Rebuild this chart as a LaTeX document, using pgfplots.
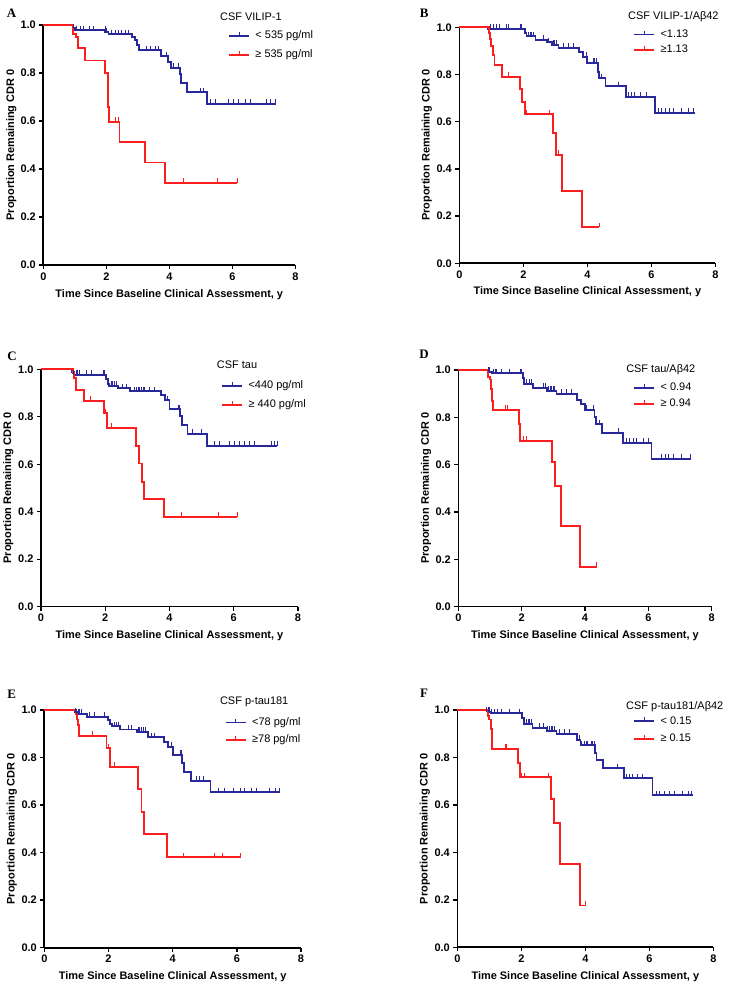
\documentclass[border=0pt]{standalone}
\usepackage{fontspec}
\setmainfont{Liberation Sans}
\newfontfamily\letterfont{Liberation Serif}
\usepackage{pgfplots}
\pgfplotsset{compat=1.18}
\definecolor{kmblue}{RGB}{40,40,155}
\definecolor{kmred}{RGB}{250,30,30}
\pgfdeclareplotmark{cens}{\pgfpathmoveto{\pgfqpoint{0pt}{0pt}}\pgfpathlineto{\pgfqpoint{0pt}{\pgfplotmarksize}}\pgfusepathqstroke}
\tikzset{
  lettr/.style={font=\letterfont\bfseries\fontsize{13}{15}\selectfont},
  ttl/.style={anchor=west, inner sep=0pt, font=\fontsize{11}{13}\selectfont},
}
\pgfplotsset{
  km/.style={
    scale only axis, anchor=south west, clip=false,
    xmin=0, xmax=8, ymin=0, ymax=1,
    axis lines=left, axis line style={-, line width=1.6bp, black},
    xtick={0,2,4,6,8}, ytick={0,0.2,0.4,0.6,0.8,1},
    tick align=outside, major tick length=4bp, tick style={line width=1.4bp, black},
    minor tick num=0,
    /pgf/number format/assume math mode=true,
    yticklabel style={/pgf/number format/.cd, fixed, fixed zerofill, precision=1},
    tick label style={font=\bfseries\fontsize{11}{13}\selectfont},
    label style={font=\bfseries\fontsize{11}{13}\selectfont},
    xlabel={Time Since Baseline Clinical Assessment, y},
    ylabel={Proportion Remaining CDR 0},
    xlabel style={at={(axis description cs:0.5,-0.122)}, anchor=center},
    ylabel style={at={(axis description cs:-0.127,0.5)}, anchor=center},
    legend style={draw=none, fill=none, font=\fontsize{11}{13}\selectfont,
      nodes={inner sep=0.5bp, text height=8bp, text depth=2.5bp},
      /tikz/every odd column/.append style={column sep=5bp}},
    legend cell align=left,
    legend image code/.code={\draw[mark repeat=2,mark phase=2,##1] plot coordinates {(0bp,0bp) (10bp,0bp) (20bp,0bp)};},
  },
  bl/.style={kmblue, line width=1.9bp, const plot, forget plot, mark=none},
  rl/.style={kmred, line width=1.9bp, const plot, forget plot, mark=none},
  bc/.style={kmblue, only marks, mark=cens, mark size=4.5bp, line width=1bp, forget plot},
  rc/.style={kmred, only marks, mark=cens, mark size=4.5bp, line width=1bp, forget plot},
  lb/.style={kmblue, line width=1.8bp, mark=cens, mark size=4bp, mark options={line width=1bp}},
  lr/.style={kmred, line width=1.8bp, mark=cens, mark size=4bp, mark options={line width=1bp}},
}
\begin{document}
\begin{tikzpicture}
\useasboundingbox (0,0) rectangle (729bp,988bp);
% ---------- A ----------
\begin{axis}[km, at={(43.3bp,723bp)}, width=252bp, height=240bp,
  legend style={at={(0.721,0.915)}, anchor=west, row sep=7.3bp}]
\addplot[bl] coordinates {(0,1) (0.95,0.986) (1.0,0.978) (1.96,0.969) (2.07,0.961) (2.81,0.951) (2.9,0.938) (2.97,0.917) (3.05,0.895) (3.74,0.87) (3.97,0.845) (4.05,0.822) (4.33,0.795) (4.38,0.757) (4.56,0.72) (5.2,0.672) (7.38,0.672)};
\addplot[bc] coordinates {(0.97,0.986) (1.06,0.978) (1.17,0.978) (1.27,0.978) (1.48,0.978) (1.59,0.978) (1.96,0.978) (2.01,0.969) (2.17,0.961) (2.28,0.961) (2.38,0.961) (2.49,0.961) (2.6,0.961) (2.7,0.961) (3.29,0.895) (3.39,0.895) (3.55,0.895) (3.66,0.895) (3.9,0.87) (4.13,0.822) (4.29,0.822) (4.98,0.72) (5.09,0.72) (5.32,0.672) (5.46,0.672) (5.88,0.672) (6.04,0.672) (6.2,0.672) (6.41,0.672) (6.59,0.672) (7.1,0.672) (7.2,0.672) (7.37,0.672)};
\addplot[rl] coordinates {(0,1) (0.95,0.963) (1.04,0.951) (1.11,0.905) (1.32,0.852) (1.95,0.80) (2.05,0.66) (2.09,0.597) (2.42,0.511) (3.23,0.427) (3.85,0.343) (6.15,0.343)};
\addplot[rc] coordinates {(2.28,0.597) (2.39,0.597) (4.45,0.343) (5.54,0.343) (6.15,0.343)};
\addlegendimage{lb}\addlegendentry{< 535 pg/ml}
\addlegendimage{lr}\addlegendentry{≥ 535 pg/ml}
\node[lettr] at (rel axis cs:-0.126,1.05) {A};
\node[ttl] at (rel axis cs:0.701,1.033) {CSF VILIP-1};
\end{axis}
% ---------- B ----------
\begin{axis}[km, at={(459.3bp,724.7bp)}, width=256bp, height=236bp,
  legend style={at={(0.667,0.937)}, anchor=west, row sep=3.7bp}]
\addplot[bl] coordinates {(0,1) (0.91,0.993) (2.05,0.976) (2.1,0.962) (2.38,0.947) (2.73,0.937) (2.9,0.926) (3.1,0.913) (3.74,0.895) (3.86,0.875) (4.0,0.85) (4.33,0.81) (4.37,0.785) (4.57,0.75) (5.2,0.706) (6.11,0.637) (7.37,0.637)};
\addplot[bc] coordinates {(0.96,0.993) (1.06,0.993) (1.17,0.993) (1.27,0.993) (1.48,0.993) (1.53,0.993) (1.9,0.993) (1.95,0.993) (2.16,0.962) (2.21,0.962) (2.26,0.962) (2.31,0.962) (2.63,0.947) (2.78,0.937) (2.94,0.926) (2.99,0.926) (3.04,0.926) (3.25,0.913) (3.41,0.913) (3.56,0.913) (3.98,0.875) (4.19,0.85) (4.24,0.85) (4.29,0.85) (4.45,0.785) (4.97,0.75) (5.28,0.706) (5.39,0.706) (5.49,0.706) (5.65,0.706) (5.85,0.706) (6.22,0.637) (6.32,0.637) (6.43,0.637) (6.58,0.637) (6.69,0.637) (6.95,0.637) (7.16,0.637) (7.31,0.637)};
\addplot[rl] coordinates {(0,1) (0.93,0.975) (0.97,0.95) (1.0,0.92) (1.05,0.884) (1.1,0.84) (1.33,0.79) (1.9,0.74) (1.95,0.685) (2.05,0.632) (2.94,0.553) (3.03,0.46) (3.21,0.307) (3.83,0.153) (4.38,0.153)};
\addplot[rc] coordinates {(1.53,0.79) (2.1,0.632) (2.83,0.632) (3.1,0.46) (4.38,0.153)};
\addlegendimage{lb}\addlegendentry{<1.13}
\addlegendimage{lr}\addlegendentry{≥1.13}
\node[lettr] at (rel axis cs:-0.137,1.059) {B};
\node[ttl] at (rel axis cs:0.659,1.045) {CSF VILIP-1/Aβ42};
\end{axis}
% ---------- C ----------
\begin{axis}[km, at={(41bp,381.3bp)}, width=257bp, height=237.4bp,
  legend style={at={(0.689,0.890)}, anchor=west, row sep=7.3bp}]
\addplot[bl] coordinates {(0,1) (0.95,0.99) (1.02,0.977) (2.03,0.958) (2.08,0.938) (2.12,0.93) (2.4,0.92) (2.76,0.908) (3.73,0.89) (3.85,0.87) (4.0,0.832) (4.33,0.802) (4.38,0.765) (4.56,0.728) (5.18,0.678) (7.35,0.678)};
\addplot[bc] coordinates {(1.0,0.977) (1.1,0.977) (1.15,0.977) (1.2,0.977) (1.41,0.977) (1.57,0.977) (1.93,0.977) (1.98,0.977) (2.19,0.93) (2.24,0.93) (2.29,0.93) (2.35,0.93) (2.55,0.92) (2.66,0.92) (2.92,0.908) (2.97,0.908) (3.02,0.908) (3.07,0.908) (3.13,0.908) (3.18,0.908) (3.23,0.908) (3.39,0.908) (3.54,0.908) (3.95,0.87) (4.27,0.832) (4.32,0.832) (4.73,0.728) (4.99,0.728) (5.41,0.678) (5.57,0.678) (5.88,0.678) (6.03,0.678) (6.19,0.678) (6.34,0.678) (6.5,0.678) (6.66,0.678) (7.18,0.678) (7.28,0.678) (7.35,0.678)};
\addplot[rl] coordinates {(0,1) (0.99,0.983) (1.03,0.962) (1.1,0.913) (1.33,0.867) (1.95,0.815) (2.06,0.753) (2.95,0.677) (3.06,0.603) (3.13,0.527) (3.22,0.452) (3.83,0.378) (6.11,0.378)};
\addplot[rc] coordinates {(1.53,0.867) (2.0,0.815) (2.19,0.753) (4.37,0.378) (5.51,0.378) (6.11,0.378)};
\addlegendimage{lb}\addlegendentry{<440 pg/ml}
\addlegendimage{lr}\addlegendentry{≥ 440 pg/ml}
\node[lettr] at (rel axis cs:-0.113,1.056) {C};
\node[ttl] at (rel axis cs:0.684,1.018) {CSF tau};
\end{axis}
% ---------- D ----------
\begin{axis}[km, at={(458.3bp,381.3bp)}, width=253.4bp, height=236.7bp,
  legend style={at={(0.678,0.890)}, anchor=west, row sep=4.6bp}]
\addplot[bl] coordinates {(0,1) (0.95,0.993) (1.05,0.986) (2.03,0.965) (2.08,0.941) (2.35,0.925) (2.8,0.913) (3.1,0.899) (3.75,0.875) (3.87,0.855) (4.0,0.831) (4.3,0.80) (4.35,0.77) (4.55,0.735) (5.2,0.693) (6.1,0.625) (7.35,0.625)};
\addplot[bc] coordinates {(0.95,0.993) (1.0,0.993) (1.11,0.986) (1.16,0.986) (1.21,0.986) (1.37,0.986) (1.63,0.986) (1.95,0.986) (2.0,0.986) (2.16,0.941) (2.26,0.941) (2.32,0.941) (2.69,0.925) (2.74,0.925) (2.84,0.913) (2.9,0.913) (2.95,0.913) (3.0,0.913) (3.05,0.913) (3.26,0.899) (3.42,0.899) (3.58,0.899) (4.05,0.831) (4.26,0.831) (4.45,0.77) (5.05,0.735) (5.32,0.693) (5.42,0.693) (5.53,0.693) (5.63,0.693) (5.84,0.693) (6.0,0.693) (6.42,0.625) (6.53,0.625) (6.63,0.625) (6.79,0.625) (7.05,0.625) (7.32,0.625)};
\addplot[rl] coordinates {(0,1) (0.95,0.97) (1.0,0.96) (1.03,0.92) (1.06,0.87) (1.1,0.831) (1.92,0.77) (1.95,0.701) (2.95,0.612) (3.05,0.511) (3.23,0.341) (3.83,0.169) (4.37,0.169)};
\addplot[rc] coordinates {(1.5,0.831) (1.55,0.831) (2.05,0.701) (2.15,0.701) (3.06,0.511) (4.37,0.169)};
\addlegendimage{lb}\addlegendentry{< 0.94}
\addlegendimage{lr}\addlegendentry{≥ 0.94}
\node[lettr] at (rel axis cs:-0.135,1.066) {D};
\node[ttl] at (rel axis cs:0.662,1.003) {CSF tau/Aβ42};
\end{axis}
% ---------- E ----------
\begin{axis}[km, at={(44.3bp,40.3bp)}, width=256.7bp, height=237.7bp,
  legend style={at={(0.691,0.911)}, anchor=west, row sep=5.7bp}]
\addplot[bl] coordinates {(0,1) (0.95,0.99) (1.02,0.984) (1.32,0.972) (1.99,0.958) (2.05,0.941) (2.1,0.932) (2.36,0.918) (2.88,0.909) (3.24,0.885) (3.73,0.867) (3.85,0.846) (4.0,0.811) (4.3,0.776) (4.35,0.741) (4.57,0.703) (5.18,0.654) (7.34,0.654)};
\addplot[bc] coordinates {(0.96,0.99) (1.01,0.984) (1.06,0.984) (1.11,0.984) (1.16,0.984) (1.42,0.972) (1.58,0.972) (1.89,0.972) (2.2,0.932) (2.25,0.932) (2.31,0.932) (2.62,0.918) (2.72,0.918) (2.93,0.909) (2.98,0.909) (3.03,0.909) (3.09,0.909) (3.14,0.909) (3.34,0.885) (3.45,0.885) (3.97,0.846) (4.02,0.811) (4.23,0.811) (4.28,0.811) (4.75,0.703) (4.85,0.703) (4.95,0.703) (5.42,0.654) (5.63,0.654) (5.89,0.654) (6.1,0.654) (6.25,0.654) (6.46,0.654) (6.62,0.654) (7.03,0.654) (7.19,0.654) (7.34,0.654)};
\addplot[rl] coordinates {(0,1) (1.0,0.985) (1.03,0.96) (1.05,0.935) (1.07,0.892) (1.94,0.839) (2.05,0.762) (2.93,0.666) (3.03,0.569) (3.1,0.477) (3.83,0.38) (6.12,0.38)};
\addplot[rc] coordinates {(1.5,0.892) (2.0,0.839) (2.2,0.762) (4.35,0.38) (5.3,0.38) (5.55,0.38) (6.12,0.38)};
\addlegendimage{lb}\addlegendentry{<78 pg/ml}
\addlegendimage{lr}\addlegendentry{≥78 pg/ml}
\node[lettr] at (rel axis cs:-0.127,1.067) {E};
\node[ttl] at (rel axis cs:0.684,1.035) {CSF p-tau181};
\end{axis}
% ---------- F ----------
\begin{axis}[km, at={(457.3bp,40.7bp)}, width=256bp, height=237.3bp,
  legend style={at={(0.675,0.915)}, anchor=west, row sep=6.3bp}]
\addplot[bl] coordinates {(0,1) (0.95,0.993) (1.05,0.986) (2.03,0.965) (2.08,0.941) (2.35,0.925) (2.8,0.913) (3.1,0.899) (3.75,0.875) (3.85,0.851) (4.3,0.82) (4.35,0.789) (4.55,0.754) (5.2,0.712) (6.1,0.64) (7.35,0.64)};
\addplot[bc] coordinates {(0.91,0.993) (0.96,0.993) (1.01,0.993) (1.07,0.986) (1.17,0.986) (1.27,0.986) (1.38,0.986) (1.64,0.986) (1.95,0.986) (2.16,0.941) (2.21,0.941) (2.26,0.941) (2.31,0.941) (2.57,0.925) (2.68,0.925) (2.83,0.913) (2.89,0.913) (2.94,0.913) (2.99,0.913) (3.04,0.913) (3.2,0.899) (3.36,0.899) (3.51,0.899) (3.82,0.875) (3.88,0.851) (3.98,0.851) (4.03,0.851) (4.08,0.851) (4.19,0.851) (4.24,0.851) (4.29,0.851) (5.02,0.754) (5.28,0.712) (5.39,0.712) (5.49,0.712) (5.64,0.712) (5.8,0.712) (6.22,0.64) (6.32,0.64) (6.48,0.64) (6.64,0.64) (6.79,0.64) (7.05,0.64) (7.21,0.64) (7.31,0.64)};
\addplot[rl] coordinates {(0,1) (0.95,0.975) (1.0,0.96) (1.05,0.92) (1.08,0.836) (1.9,0.775) (1.95,0.716) (2.93,0.625) (3.03,0.522) (3.2,0.35) (3.83,0.176) (4.01,0.176)};
\addplot[rc] coordinates {(1.5,0.836) (1.55,0.836) (2.0,0.716) (2.1,0.716) (2.85,0.716) (3.05,0.522) (4.01,0.176)};
\addlegendimage{lb}\addlegendentry{< 0.15}
\addlegendimage{lr}\addlegendentry{≥ 0.15}
\node[lettr] at (rel axis cs:-0.13,1.07) {F};
\node[ttl] at (rel axis cs:0.659,1.014) {CSF p-tau181/Aβ42};
\end{axis}
\end{tikzpicture}
\end{document}
